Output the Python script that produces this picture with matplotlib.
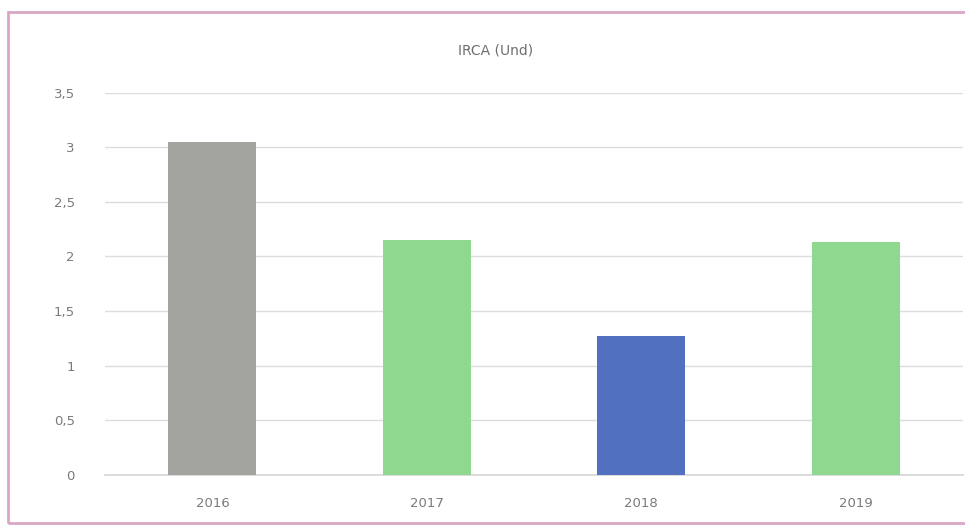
import matplotlib.pyplot as plt
from matplotlib.patches import Rectangle
from matplotlib.ticker import FuncFormatter

# Data
years = ['2016', '2017', '2018', '2019']
irca = [3.05, 2.15, 1.27, 2.13]
bar_colors = ['#a3a3a0', '#8fd88f', '#5170c0', '#8fd88f']

fig = plt.figure(figsize=(9.65, 5.27), dpi=100)
ax = fig.add_axes([0.109, 0.099, 0.889, 0.725])

ax.bar(years, irca, width=0.41, color=bar_colors, zorder=3)

ax.set_ylim(0, 3.5)
ax.set_yticks([0, 0.5, 1, 1.5, 2, 2.5, 3, 3.5])
ax.yaxis.set_major_formatter(FuncFormatter(lambda v, p: ('%g' % v).replace('.', ',')))
ax.set_xlim(-0.5, 3.5)
ax.grid(axis='y', color='#dcdcdc', linewidth=1, zorder=0)
ax.axhline(0, color='#d6d6d6', linewidth=1.2, zorder=2, clip_on=False)
for s in ax.spines.values():
    s.set_visible(False)
ax.tick_params(length=0, colors='#7a7a7a', labelsize=9.5)
ax.tick_params(axis='y', pad=22)
ax.tick_params(axis='x', pad=16)

fig.text(0.514, 0.905, 'IRCA (Und)', ha='center', va='center', fontsize=10, color='#6e6e6e')

# pink frame around the chart
fig.patches.append(Rectangle((0.008, 0.008), 1.2, 0.97, transform=fig.transFigure,
                             fill=False, edgecolor='#d9a6c4', linewidth=2))

plt.savefig('out.png', dpi=100)
